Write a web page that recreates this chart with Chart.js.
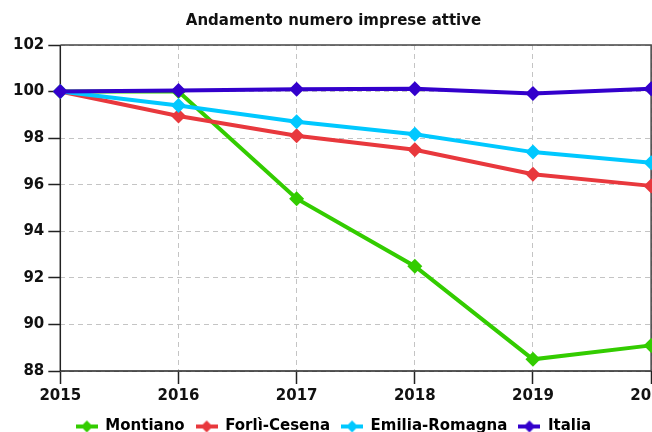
<!DOCTYPE html>
<html>
<head>
<meta charset="utf-8">
<script src="https://cdn.jsdelivr.net/npm/chart.js@4"></script>
<style>
  html, body { margin: 0; padding: 0; background: #fff; overflow: hidden; }
  #wrap { width: 675px; height: 444px; }
</style>
</head>
<body>
<div id="wrap"><canvas id="impreseChart" width="675" height="444"></canvas></div>
<script>
const years = ["2015", "2016", "2017", "2018", "2019", "2020"];
const montiano = [100, 100, 95.4, 92.5, 88.5, 89.1];
const forliCesena = [100, 98.95, 98.1, 97.5, 96.45, 95.95];
const emiliaRomagna = [100, 99.4, 98.7, 98.17, 97.4, 96.94];
const italia = [100, 100.05, 100.1, 100.12, 99.92, 100.12];
const seriesNames = ["Montiano", "Forlì-Cesena", "Emilia-Romagna", "Italia"];
const seriesColors = ["#33cc00", "#e8383d", "#00c8ff", "#3300cc"];

const FONT = "'DejaVu Sans', sans-serif";

// legend icon: short line with a diamond on it
function legendIcon(color) {
    const c = document.createElement("canvas");
    c.width = 22;
    c.height = 14;
    const g = c.getContext("2d");
    g.strokeStyle = color;
    g.lineWidth = 4;
    g.beginPath();
    g.moveTo(0, 7);
    g.lineTo(22, 7);
    g.stroke();
    g.fillStyle = color;
    g.beginPath();
    g.moveTo(11, 1);
    g.lineTo(17, 7);
    g.lineTo(11, 13);
    g.lineTo(5, 7);
    g.closePath();
    g.fill();
    return c;
}

// solid axes and frame round the plot
const frame = {
    id: "frame",
    beforeDatasetsDraw(chart) {
        const a = chart.chartArea;
        const ctx = chart.ctx;
        ctx.save();
        ctx.strokeStyle = "#222";
        ctx.lineWidth = 1.5;
        ctx.beginPath();
        ctx.moveTo(a.left, a.top);
        ctx.lineTo(a.left, a.bottom);
        ctx.lineTo(a.right, a.bottom);
        ctx.stroke();
        ctx.strokeStyle = "#444";
        ctx.beginPath();
        ctx.moveTo(a.left, a.top);
        ctx.lineTo(a.right, a.top);
        ctx.lineTo(a.right, a.bottom);
        ctx.stroke();
        ctx.restore();
    }
};

const values = [montiano, forliCesena, emiliaRomagna, italia];
const datasets = values.map(function(v, i) {
    return {
        label: seriesNames[i],
        data: v,
        borderColor: seriesColors[i],
        backgroundColor: seriesColors[i],
        borderWidth: 4,
        pointStyle: "rectRot",
        pointRadius: 7.5,
        pointHoverRadius: 7.5,
        pointBorderWidth: 0,
        tension: 0
    };
}).reverse();

const ctx = document.getElementById("impreseChart").getContext("2d");

new Chart(ctx, {
    type: "line",
    data: { labels: years, datasets: datasets },
    options: {
        responsive: false,
        animation: false,
        layout: { padding: { left: 9, right: 17, top: 4, bottom: 0 } },
        scales: {
            x: {
                offset: false,
                grid: {
                    offset: false,
                    color: "#c4c4c4",
                    lineWidth: 1,
                    tickLength: 13,
                    tickColor: "#222",
                    tickWidth: 1.5,
                    tickBorderDash: []
                },
                border: { display: false, dash: [5, 4] },
                ticks: {
                    color: "#111",
                    font: { family: FONT, size: 15, weight: "bold" },
                    padding: 3,
                    maxRotation: 0
                }
            },
            y: {
                min: 88,
                max: 102,
                grid: {
                    color: "#c4c4c4",
                    lineWidth: 1,
                    tickLength: 12,
                    tickColor: "#222",
                    tickWidth: 1.5,
                    tickBorderDash: []
                },
                border: { display: false, dash: [5, 4] },
                ticks: {
                    stepSize: 2,
                    color: "#111",
                    font: { family: FONT, size: 15, weight: "bold" },
                    padding: 4
                }
            }
        },
        plugins: {
            title: {
                display: true,
                text: "Andamento numero imprese attive",
                color: "#111",
                font: { family: FONT, size: 15, weight: "bold" },
                padding: { top: 8, bottom: 15 }
            },
            legend: {
                position: "bottom",
                labels: {
                    usePointStyle: true,
                    pointStyleWidth: 22,
                    padding: 11,
                    color: "#111",
                    font: { family: FONT, size: 15, weight: "bold" },
                    generateLabels: function(chart) {
                        return seriesNames.map(function(name, i) {
                            return {
                                text: name,
                                pointStyle: legendIcon(seriesColors[i]),
                                fillStyle: seriesColors[i],
                                strokeStyle: seriesColors[i],
                                lineWidth: 0,
                                hidden: false,
                                datasetIndex: seriesNames.length - 1 - i
                            };
                        });
                    }
                }
            },
            tooltip: { enabled: false }
        }
    },
    plugins: [frame]
});
</script>
</body>
</html>
